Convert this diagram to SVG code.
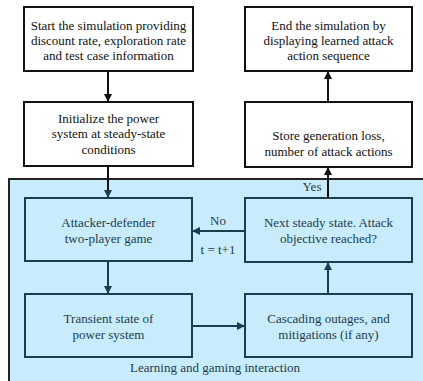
<svg xmlns="http://www.w3.org/2000/svg" width="423" height="381" viewBox="0 0 423 381">
<style>
text{font-family:'Liberation Serif','Times New Roman',Tinos,'DejaVu Serif',serif;font-size:13px;text-anchor:middle}
.t{fill:#111}
.ti{fill:#1e3c4c}
.bo{fill:#fff;stroke:#111;stroke-width:2}
.bi{fill:#c8ecfb;stroke:#1d3d4f;stroke-width:2}
.co{fill:none;stroke:#111;stroke-width:2}
.ci{fill:none;stroke:#1d3d4f;stroke-width:2}
</style>
<defs>
<marker id="ao" markerWidth="8" markerHeight="8" refX="7" refY="4" orient="auto" markerUnits="userSpaceOnUse"><path d="M0,0 L8,4 L0,8 Z" fill="#111"/></marker>
<marker id="ai" markerWidth="8" markerHeight="8" refX="7" refY="4" orient="auto" markerUnits="userSpaceOnUse"><path d="M0,0 L8,4 L0,8 Z" fill="#1d3d4f"/></marker>
</defs>
<rect width="423" height="381" fill="#fff"/>
<g id="region">
<rect x="9" y="179" width="420" height="210" fill="#c8ecfb" stroke="#222" stroke-width="2"/>
<text class="ti" x="215" y="372">Learning and gaming interaction</text>
</g>
<g id="start">
<rect class="bo" x="24" y="7" width="169" height="64"/>
<text class="t" x="108.5" y="29.5">Start the simulation providing</text>
<text class="t" x="108.5" y="44.5">discount rate, exploration rate</text>
<text class="t" x="108.5" y="59.5">and test case information</text>
</g>
<g id="end">
<rect class="bo" x="245" y="7" width="167" height="64"/>
<text class="t" x="328.5" y="29.5">End the simulation by</text>
<text class="t" x="328.5" y="44.5">displaying learned attack</text>
<text class="t" x="328.5" y="59.5">action sequence</text>
</g>
<g id="init">
<rect class="bo" x="24" y="102" width="169" height="64"/>
<text class="t" x="108.5" y="122.5">Initialize the power</text>
<text class="t" x="108.5" y="138">system at steady-state</text>
<text class="t" x="108.5" y="153.5">conditions</text>
</g>
<g id="store">
<rect class="bo" x="245" y="102" width="167" height="65"/>
<text class="t" x="328.5" y="140">Store generation loss,</text>
<text class="t" x="328.5" y="156">number of attack actions</text>
</g>
<g id="attacker">
<rect class="bi" x="25" y="198" width="167" height="63"/>
<text class="ti" x="108.5" y="227">Attacker-defender</text>
<text class="ti" x="108.5" y="243">two-player game</text>
</g>
<g id="next">
<rect class="bi" x="245" y="198" width="167" height="64"/>
<text class="ti" x="328.5" y="227">Next steady state. Attack</text>
<text class="ti" x="328.5" y="243">objective reached?</text>
</g>
<g id="transient">
<rect class="bi" x="25" y="294" width="167" height="63"/>
<text class="ti" x="108.5" y="323">Transient state of</text>
<text class="ti" x="108.5" y="339">power system</text>
</g>
<g id="cascading">
<rect class="bi" x="245" y="294" width="167" height="63"/>
<text class="ti" x="328.5" y="323">Cascading outages, and</text>
<text class="ti" x="328.5" y="339">mitigations (if any)</text>
</g>
<g id="connectors">
<line class="co" x1="108" y1="71" x2="108" y2="101" marker-end="url(#ao)"/>
<line class="co" x1="328" y1="102" x2="328" y2="72" marker-end="url(#ao)"/>
<line class="co" x1="108" y1="166" x2="108" y2="197" marker-end="url(#ai)"/>
<line class="co" x1="328" y1="198" x2="328" y2="168" marker-end="url(#ao)"/>
<line class="ci" x1="245" y1="231" x2="193" y2="231" marker-end="url(#ai)"/>
<line class="ci" x1="108" y1="261" x2="108" y2="293" marker-end="url(#ai)"/>
<line class="ci" x1="192" y1="326" x2="244" y2="326" marker-end="url(#ai)"/>
<line class="ci" x1="328" y1="294" x2="328" y2="263" marker-end="url(#ai)"/>
<text class="ti" x="312" y="191">Yes</text>
<text class="ti" x="218" y="225">No</text>
<text class="ti" x="218" y="254">t = t+1</text>
</g>
</svg>
